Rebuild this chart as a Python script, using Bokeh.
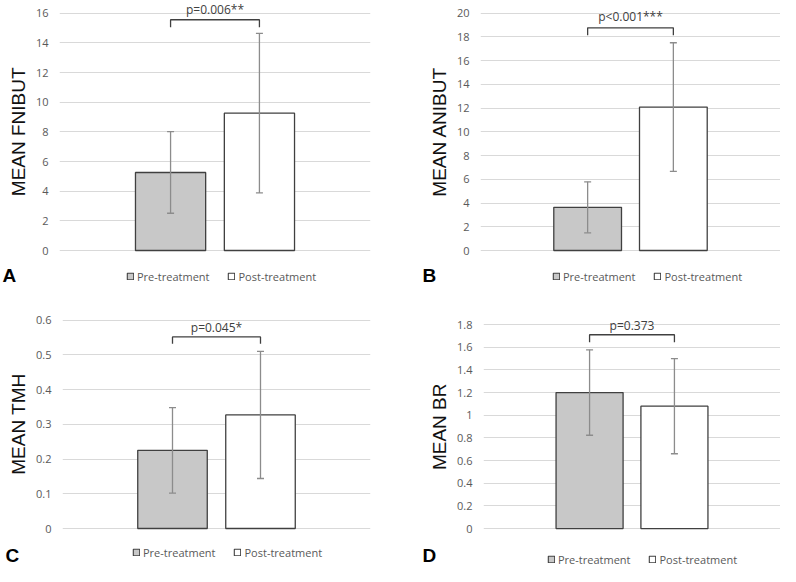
from bokeh.plotting import figure
from bokeh.layouts import column, row
from bokeh.models import (Range1d, FixedTicker, Whisker, TeeHead, ColumnDataSource,
                          Legend, LegendItem, Label)
from bokeh.embed import file_html
from bokeh.resources import INLINE

# ---------------- data ----------------
groups = ["Pre-treatment", "Post-treatment"]
xpos = [1, 2]

fnibut_mean = [5.26, 9.26]
fnibut_sd = [2.75, 5.38]
fnibut_ticks = [0, 2, 4, 6, 8, 10, 12, 14, 16]
fnibut_tick_labels = ["0", "2", "4", "6", "8", "10", "12", "14", "16"]
fnibut_p = "p=0.006**"

anibut_mean = [3.64, 12.09]
anibut_sd = [2.15, 5.42]
anibut_ticks = [0, 2, 4, 6, 8, 10, 12, 14, 16, 18, 20]
anibut_tick_labels = ["0", "2", "4", "6", "8", "10", "12", "14", "16", "18", "20"]
anibut_p = "p<0.001***"

tmh_mean = [0.225, 0.327]
tmh_sd = [0.123, 0.183]
tmh_ticks = [0, 0.1, 0.2, 0.3, 0.4, 0.5, 0.6]
tmh_tick_labels = ["0", "0.1", "0.2", "0.3", "0.4", "0.5", "0.6"]
tmh_p = "p=0.045*"

br_mean = [1.20, 1.08]
br_sd = [0.377, 0.42]
br_ticks = [0, 0.2, 0.4, 0.6, 0.8, 1.0, 1.2, 1.4, 1.6, 1.8]
br_tick_labels = ["0", "0.2", "0.4", "0.6", "0.8", "1", "1.2", "1.4", "1.6", "1.8"]
br_p = "p=0.373"

# ---------------- styling ----------------
W = 390
PRE_FILL = "#c8c8c8"
POST_FILL = "#ffffff"
BAR_LINE = "#404040"
ERR_COL = "#8c8c8c"
GRID_COL = "#d9d9d9"
TICK_COL = "#595959"
FONT = "Open Sans"
XSTART, XEND = -0.25, 3.25
BAR_W = 0.79
NAN = float("nan")
NBSP = "\u00a0"


def make_panel(mean, sd, ticks, tick_labels, ylabel, ptext, geo):
    H = geo["H"]
    fl, fr, y0, ytop, mbt = geo["fl"], geo["fr"], geo["y0"], geo["ytop"], geo["mbt"]
    ppu = (y0 - ytop) / ticks[-1]
    pad = 2.0
    ystart = -pad / ppu
    yend = (y0 - mbt) / ppu
    mbb = int(round(H - y0 - pad))

    p = figure(width=W, height=H, output_backend="svg", toolbar_location=None,
               x_range=Range1d(XSTART, XEND), y_range=Range1d(ystart, yend),
               x_axis_location=None,
               min_border_left=fl, min_border_right=W - fr,
               min_border_top=int(round(mbt)), min_border_bottom=mbb)
    p.outline_line_color = None
    p.background_fill_color = "white"
    p.border_fill_color = "white"

    p.xgrid.grid_line_color = None
    ax = p.yaxis[0]
    ax.ticker = FixedTicker(ticks=ticks)
    ax.major_label_overrides = {t: s for t, s in zip(ticks, tick_labels)}
    ax.axis_line_color = None
    ax.major_tick_line_color = None
    ax.minor_tick_line_color = None
    ax.major_tick_out = 0
    ax.major_tick_in = 0
    ax.minor_tick_out = 0
    ax.major_label_standoff = 11
    ax.major_label_text_font = FONT
    ax.major_label_text_font_size = "11px"
    ax.major_label_text_color = TICK_COL
    ax.axis_label = ylabel + NBSP * geo["lab_pad"]
    ax.axis_label_text_font = "Liberation Sans"
    ax.axis_label_text_font_size = "19px"
    ax.axis_label_text_font_style = "normal"
    ax.axis_label_text_color = "#111111"
    ax.axis_label_standoff = 4
    p.ygrid.ticker = FixedTicker(ticks=ticks)
    p.ygrid.grid_line_color = GRID_COL
    p.ygrid.grid_line_width = 1

    p.vbar(x=[xpos[0]], top=[mean[0]], bottom=0, width=BAR_W,
           fill_color=PRE_FILL, line_color=BAR_LINE, line_width=1.3)
    p.vbar(x=[xpos[1]], top=[mean[1]], bottom=0, width=BAR_W,
           fill_color=POST_FILL, line_color=BAR_LINE, line_width=1.3)

    src = ColumnDataSource(dict(x=xpos,
                                upper=[m + s for m, s in zip(mean, sd)],
                                lower=[m - s for m, s in zip(mean, sd)]))
    wk = Whisker(source=src, base="x", upper="upper", lower="lower", level="overlay",
                 line_color=ERR_COL, line_width=1.3,
                 upper_head=TeeHead(size=7, line_color=ERR_COL, line_width=1.3),
                 lower_head=TeeHead(size=7, line_color=ERR_COL, line_width=1.3))
    p.add_layout(wk)

    # significance bracket
    bt, bb = geo["br_top"], geo["br_bot"]
    p.line(x=[xpos[0], xpos[0], xpos[1], xpos[1]], y=[bb, bt, bt, bb],
           line_color=BAR_LINE, line_width=1.3)
    p.add_layout(Label(x=(xpos[0] + xpos[1]) / 2, y=geo["ptext_y"], text=ptext,
                       text_align="center", text_baseline="middle",
                       text_font=FONT, text_font_size="12px", text_color="#404040"))
    return p


def make_legend_strip(letter, geo):
    LH = geo["LH"]
    lf = figure(width=W, height=LH, output_backend="svg", toolbar_location=None,
                x_range=Range1d(0, W), y_range=Range1d(0, LH),
                x_axis_location=None, y_axis_location=None,
                min_border_left=0, min_border_right=0, min_border_top=0, min_border_bottom=0)
    lf.grid.grid_line_color = None
    lf.outline_line_color = None
    lf.border_fill_color = "white"
    r_pre = lf.vbar(x=[NAN], top=[NAN], width=1,
                    fill_color=PRE_FILL, line_color=BAR_LINE, line_width=1.1)
    r_post = lf.vbar(x=[NAN], top=[NAN], width=1,
                     fill_color=POST_FILL, line_color=BAR_LINE, line_width=1.1)
    legend = Legend(items=[LegendItem(label=groups[0], renderers=[r_pre]),
                           LegendItem(label=groups[1], renderers=[r_post])],
                    orientation="horizontal",
                    location=(geo["leg_x"], LH - geo["leg_c"] - 7.5),
                    glyph_width=8, glyph_height=8, label_standoff=3, spacing=18,
                    padding=0, margin=0, label_height=10,
                    border_line_color=None, background_fill_alpha=0,
                    label_text_font=FONT, label_text_font_size="11px",
                    label_text_color=TICK_COL)
    lf.add_layout(legend)
    lx, lc = geo["letter"]
    lf.add_layout(Label(x=lx, y=LH - lc, text=letter,
                        text_align="left", text_baseline="middle",
                        text_font="Liberation Sans", text_font_style="bold",
                        text_font_size="19px", text_color="black"))
    return lf


geoA = dict(H=258, fl=59, fr=370, mbt=0, y0=250, ytop=12.7, lab_pad=2,
            br_top=15.56, br_bot=15.06, ptext_y=16.22,
            LH=28, leg_x=126, leg_c=18, letter=(2, 16.5))
geoB = dict(H=258, fl=90, fr=390, mbt=0, y0=250.3, ytop=12.7, lab_pad=2,
            br_top=18.77, br_bot=18.15, ptext_y=19.72,
            LH=28, leg_x=162, leg_c=18, letter=(32, 16.5))
geoC = dict(H=254, fl=62, fr=370, mbt=24, y0=242, ytop=31.7, lab_pad=1,
            br_top=0.5515, br_bot=0.532, ptext_y=0.58,
            LH=26, leg_x=132, leg_c=12, letter=(5, 14.5))
geoD = dict(H=254, fl=93, fr=390, mbt=26, y0=247, ytop=38.3, lab_pad=2,
            br_top=1.71, br_bot=1.644, ptext_y=1.794,
            LH=26, leg_x=157, leg_c=19, letter=(32, 14.5))

pA = make_panel(fnibut_mean, fnibut_sd, fnibut_ticks, fnibut_tick_labels, "MEAN FNIBUT", fnibut_p, geoA)
pB = make_panel(anibut_mean, anibut_sd, anibut_ticks, anibut_tick_labels, "MEAN ANIBUT", anibut_p, geoB)
pC = make_panel(tmh_mean, tmh_sd, tmh_ticks, tmh_tick_labels, "MEAN TMH", tmh_p, geoC)
pD = make_panel(br_mean, br_sd, br_ticks, br_tick_labels, "MEAN BR", br_p, geoD)
lA = make_legend_strip("A", geoA)
lB = make_legend_strip("B", geoB)
lC = make_legend_strip("C", geoC)
lD = make_legend_strip("D", geoD)

layout = column(row(pA, pB), row(lA, lB), row(pC, pD), row(lC, lD))

open("out.html", "w").write(file_html(layout, INLINE))
